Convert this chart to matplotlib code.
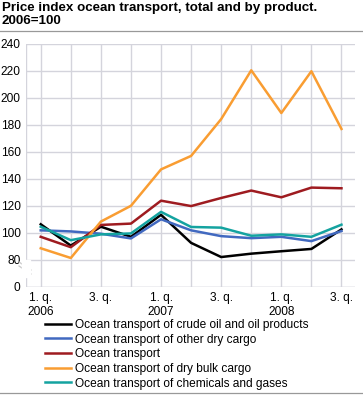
import matplotlib.pyplot as plt

quarters = ["1. q.\n2006", "", "3. q.", "", "1. q.\n2007", "", "3. q.", "",
            "1. q.\n2008", "", "3. q."]

crude_oil = [106.3, 90.5, 104.5, 97.0, 113.3, 92.5, 82.0, 84.5, 86.3, 88.0, 102.5]
other_dry = [101.8, 101.0, 99.3, 95.8, 110.0, 101.8, 97.5, 96.0, 97.0, 93.8, 101.3]
ocean_total = [97.0, 89.3, 105.8, 106.8, 123.8, 119.8, 125.8, 131.3, 126.3, 133.5, 133.0]
dry_bulk = [88.5, 81.3, 108.3, 120.0, 147.0, 157.0, 184.3, 220.5, 188.8, 219.8, 177.0]
chemicals = [104.5, 94.5, 98.8, 99.5, 115.5, 104.3, 103.8, 97.8, 98.8, 97.0, 106.0]

series = [
    ("Ocean transport of crude oil and oil products", crude_oil, "#000000"),
    ("Ocean transport of other dry cargo", other_dry, "#4169c0"),
    ("Ocean transport", ocean_total, "#9e1b20"),
    ("Ocean transport of dry bulk cargo", dry_bulk, "#f99d32"),
    ("Ocean transport of chemicals and gases", chemicals, "#14a3a0"),
]

ytick_pos = [60, 80, 100, 120, 140, 160, 180, 200, 220, 240]
ytick_lab = ["0", "80", "100", "120", "140", "160", "180", "200", "220", "240"]

plt.rcParams["font.family"] = ["Liberation Sans", "DejaVu Sans"]
fig = plt.figure(figsize=(3.63, 3.96), dpi=100)
ax = fig.add_axes([26 / 363, 1 - 286.7 / 396, (355 - 26) / 363, (286.7 - 44) / 396])

x = list(range(len(quarters)))
for name, vals, col in series:
    ax.plot(x, vals, color=col, lw=1.8, label=name, zorder=3)

ax.set_xlim(-0.49, 10.45)
ax.set_ylim(60, 240)
ax.set_xticks(x)
ax.set_xticklabels(quarters, fontsize=8.6)
ax.set_yticks(ytick_pos)
ax.set_yticklabels(ytick_lab, fontsize=8.6)
ax.tick_params(length=0, pad=4)
ax.grid(True, color="#d4d4dc", lw=1, zorder=0)
for s in ax.spines.values():
    s.set_visible(False)
ax.axvline(-0.49, color="#d4d4dc", lw=1, zorder=0)
ax.axhline(60, color="#d4d4dc", lw=1, zorder=1)

# white gap in the axis column, then the break mark
fig.patches.append(plt.Rectangle((22 / 363, 1 - 277 / 396), 8 / 363, 17 / 396,
                                 transform=fig.transFigure, color="white", zorder=5))
for dy in (0, 4):
    fig.lines.append(plt.Line2D([19 / 363, 31 / 363],
                                [1 - (262 + dy) / 396, 1 - (270 + dy) / 396],
                                transform=fig.transFigure, color="#c8c8c8", lw=0.9))

fig.text(0.005, 1 - 2 / 396, "Price index ocean transport, total and by product.\n2006=100",
         fontsize=9.6, fontweight="bold", va="top", linespacing=1.1)
fig.lines.append(plt.Line2D([0, 1], [1 - 31 / 396, 1 - 31 / 396],
                            transform=fig.transFigure, color="#999999", lw=0.9))
fig.lines.append(plt.Line2D([0, 1], [1 - 393 / 396, 1 - 393 / 396],
                            transform=fig.transFigure, color="#999999", lw=0.9))

fig.legend(loc="upper left", bbox_to_anchor=(45 / 363, 1 - 319 / 396), frameon=False,
           fontsize=8.6, handlelength=2.2, handletextpad=0.3, labelspacing=0.22,
           borderaxespad=0, borderpad=0)

fig.savefig("out.png", dpi=100)
